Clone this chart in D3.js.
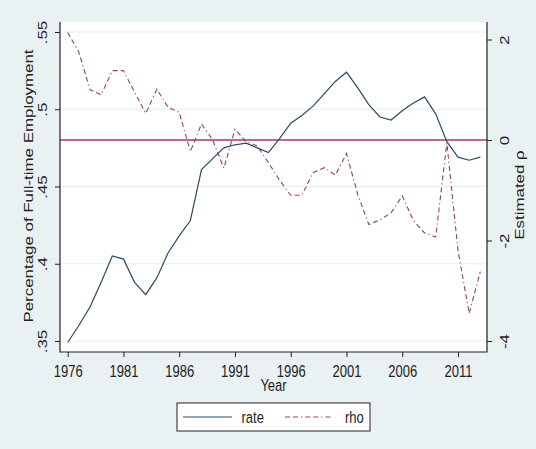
<!DOCTYPE html>
<html>
<head>
  <title>Full-time employment and estimated rho</title>
  <script type="text/javascript" src="https://cdn.jsdelivr.net/npm/d3@7/dist/d3.min.js"></script>
</head>
<style>
  body {
    margin: 0;
    background-color: #eaf1f3;
  }

  .label {
    fill: #222;
    font-size: 13px;
    font-family: "Liberation Sans", Arial, sans-serif;
  }

  .axis path,
  .axis line {
    stroke: #222;
  }
</style>

<body>
  <script type="text/javascript">
    // data
    var years = [1976, 1977, 1978, 1979, 1980, 1981, 1982, 1983, 1984, 1985,
      1986, 1987, 1988, 1989, 1990, 1991, 1992, 1993, 1994, 1995,
      1996, 1997, 1998, 1999, 2000, 2001, 2002, 2003, 2004, 2005,
      2006, 2007, 2008, 2009, 2010, 2011, 2012, 2013];

    var rate = [.349, .360, .372, .388, .405, .403, .388, .380, .391, .407,
      .418, .428, .461, .468, .475, .477, .478, .475, .472, .481,
      .491, .496, .502, .510, .518, .524, .514, .503, .495, .493,
      .499, .504, .508, .497, .479, .469, .467, .469];

    var rho = [2.14, 1.75, 1.0, 0.9, 1.38, 1.38, 0.95, 0.53, 1.01, 0.65,
      0.55, -0.23, 0.32, 0.0, -0.56, 0.21, -0.03, -0.12, -0.45, -0.8,
      -1.1, -1.1, -0.65, -0.55, -0.7, -0.27, -1.08, -1.68, -1.59, -1.45,
      -1.11, -1.6, -1.85, -1.93, -0.06, -2.2, -3.45, -2.62];

    var xTicks = [1976, 1981, 1986, 1991, 1996, 2001, 2006, 2011];
    var leftTicks = [.35, .4, .45, .5, .55];
    var rightTicks = [-4, -2, 0, 2];

    var width = 536;
    var height = 449;
    var plotLeft = 60, plotRight = 487, plotTop = 22, plotBottom = 352;

    var svg = d3.select("body")
      .append("svg")
      .attr("width", width)
      .attr("height", height);

    svg.append("rect")
      .attr("x", 0).attr("y", 0)
      .attr("width", width).attr("height", height)
      .attr("fill", "#eaf1f3");

    // plot region
    svg.append("rect")
      .attr("x", plotLeft).attr("y", plotTop)
      .attr("width", plotRight - plotLeft).attr("height", plotBottom - plotTop)
      .attr("fill", "white");

    var xScale = d3.scaleLinear().domain([1976, 2013]).range([67.7, 480.3]);
    var yLeft = d3.scaleLinear().domain([.35, .55]).range([341, 32]);
    var yRight = d3.scaleLinear().domain([-4, 2]).range([341, 39.5]);

    // gridlines
    svg.selectAll(".grid")
      .data(leftTicks)
      .enter()
      .append("line")
      .attr("class", "grid")
      .attr("x1", plotLeft)
      .attr("x2", plotRight)
      .attr("y1", function(d) { return yLeft(d); })
      .attr("y2", function(d) { return yLeft(d); })
      .attr("stroke", "#e6eef0")
      .attr("stroke-width", 1.2);

    // zero line on the rho axis
    svg.append("line")
      .attr("x1", plotLeft)
      .attr("x2", plotRight)
      .attr("y1", yRight(0))
      .attr("y2", yRight(0))
      .attr("stroke", "#b0335a")
      .attr("stroke-width", 1.4);

    var rateLine = d3.line()
      .x(function(d, i) { return xScale(years[i]); })
      .y(function(d) { return yLeft(d); });

    var rhoLine = d3.line()
      .x(function(d, i) { return xScale(years[i]); })
      .y(function(d) { return yRight(d); });

    svg.append("path")
      .datum(rho)
      .attr("d", rhoLine)
      .attr("fill", "none")
      .attr("stroke", "#93435a")
      .attr("stroke-width", 1.1)
      .attr("stroke-dasharray", "5,3,5,3,1.2,3");

    svg.append("path")
      .datum(rate)
      .attr("d", rateLine)
      .attr("fill", "none")
      .attr("stroke", "#2a4a66")
      .attr("stroke-width", 1.2);

    // axes
    var xAxis = d3.axisBottom(xScale).tickValues(xTicks).tickSize(5).tickSizeOuter(0)
      .tickFormat(d3.format("d"));
    var gx = svg.append("g")
      .attr("class", "axis label")
      .attr("transform", "translate(0," + plotBottom + ")")
      .call(xAxis);
    gx.select(".domain").remove();
    gx.selectAll("text")
      .attr("y", 0).attr("dy", null)
      .attr("fill", "#222")
      .attr("transform", "translate(0,24.7) scale(1,1.3)");

    var leftAxis = d3.axisLeft(yLeft).tickValues(leftTicks).tickSize(5).tickSizeOuter(0)
      .tickFormat(function(d) { return d3.format(".2")(d).replace("0.", "."); });
    var gl = svg.append("g")
      .attr("class", "axis label")
      .attr("transform", "translate(" + plotLeft + ",0)")
      .call(leftAxis);
    gl.select(".domain").remove();
    gl.selectAll("text")
      .attr("x", 0).attr("dy", null)
      .attr("fill", "#222")
      .style("text-anchor", "middle")
      .attr("transform", "translate(-13,0) scale(1,1.3) rotate(-90)");

    var rightAxis = d3.axisRight(yRight).tickValues(rightTicks).tickSize(5).tickSizeOuter(0)
      .tickFormat(function(d) { return String(d); });
    var gr = svg.append("g")
      .attr("class", "axis label")
      .attr("transform", "translate(" + plotRight + ",0)")
      .call(rightAxis);
    gr.select(".domain").remove();
    gr.selectAll("text")
      .attr("x", 0).attr("dy", null)
      .attr("fill", "#222")
      .style("text-anchor", "middle")
      .attr("transform", "translate(21.5,0) scale(1,1.3) rotate(-90)");

    // axis lines
    svg.append("path")
      .attr("d", "M" + plotLeft + "," + plotTop + "V" + plotBottom + "H" + plotRight + "V" + plotTop)
      .attr("fill", "none")
      .attr("stroke", "#222")
      .attr("stroke-width", 1.2);

    // titles
    svg.append("text")
      .attr("class", "label")
      .attr("text-anchor", "middle")
      .attr("transform", "translate(273.5,390.5) scale(1,1.3)")
      .text("Year");

    svg.append("text")
      .attr("class", "label")
      .attr("text-anchor", "middle")
      .attr("transform", "translate(33,186) scale(1,1.3) rotate(-90)")
      .text("Percentage of Full-time Employment");

    svg.append("text")
      .attr("class", "label")
      .attr("text-anchor", "middle")
      .attr("transform", "translate(524,195) scale(1,1.3) rotate(-90)")
      .text("Estimated ρ");

    // legend
    svg.append("rect")
      .attr("x", 177).attr("y", 403)
      .attr("width", 193).attr("height", 28)
      .attr("fill", "white")
      .attr("stroke", "#222")
      .attr("stroke-width", 1);

    svg.append("line")
      .attr("x1", 183).attr("x2", 232)
      .attr("y1", 417).attr("y2", 417)
      .attr("stroke", "#2a4a66")
      .attr("stroke-width", 1.2);

    svg.append("text")
      .attr("class", "label")
      .attr("transform", "translate(241.5,423) scale(1,1.3)")
      .text("rate");

    svg.append("line")
      .attr("x1", 285).attr("x2", 333)
      .attr("y1", 417).attr("y2", 417)
      .attr("stroke", "#93435a")
      .attr("stroke-width", 1.1)
      .attr("stroke-dasharray", "5,3,5,3,1.2,3");

    svg.append("text")
      .attr("class", "label")
      .attr("transform", "translate(345,423) scale(1,1.3)")
      .text("rho");
  </script>
</body>
</html>
